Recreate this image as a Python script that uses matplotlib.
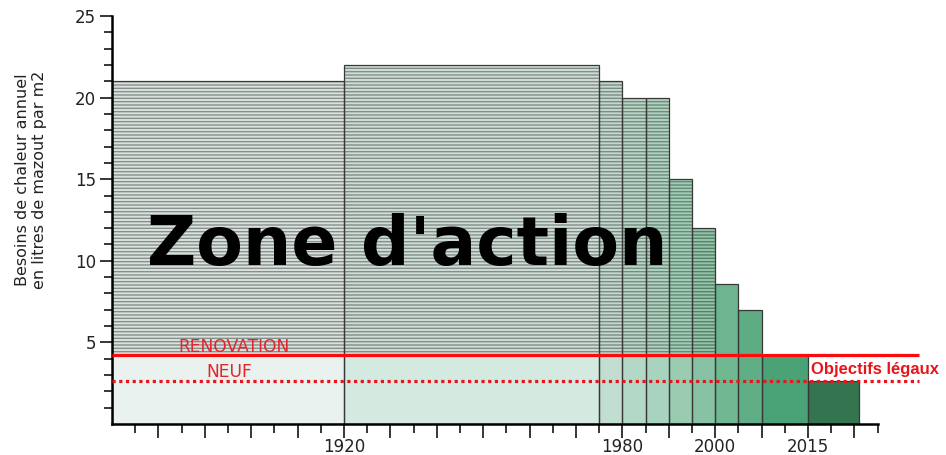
import numpy as np
import matplotlib.pyplot as plt

# periods as bar edges (in tick steps along the irregular time axis)
edges = [0, 10, 21, 22, 23, 24, 25, 26, 27, 28, 30, 32.2]
heights = [21, 22, 21, 20, 20, 15, 12, 8.6, 7.0, 4.25, 2.65]

low_colors = ['#e9f2ee', '#d4e9df', '#c1ded0', '#b3d8c6', '#a8d3bf', '#99cbb1',
              '#87c2a5', '#70b891', '#5fae85', '#4aa277', '#34754f']
top_colors = ['#dbe2de', '#d0ddd6', '#c4d8ce', '#bad4c6', '#b2d0c0', '#a5cbb6',
              '#97c3ab', '#6db590', '#5dac84', '#4aa277', '#34754f']
stripe_colors = ['#85908b', '#818f88', '#7a8c82', '#728e7f', '#6c8d7b', '#608d74',
                 '#538268', None, None, None, None]

renovation = 4.25
neuf = 2.65
line_end = 34.8

year_ticks = [10, 22, 26, 30]
year_labels = ['1920', '1980', '2000', '2015']

plt.rcParams['hatch.linewidth'] = 1.0

fig = plt.figure(figsize=(9.46, 4.55), dpi=100)
ax = fig.add_axes([112 / 946, 31 / 455, 812 / 946, 408 / 455])

left = np.array(edges[:-1])
width = np.diff(edges)
h = np.array(heights)

# lower (un-hatched) part below the renovation target
ax.bar(left, np.minimum(h, renovation), width, align='edge',
       color=low_colors, linewidth=0, zorder=1)

# upper part, striped for older buildings
for i in range(len(h)):
    if h[i] <= renovation:
        continue
    sc = stripe_colors[i]
    ax.bar(left[i], h[i] - renovation, width[i], bottom=renovation, align='edge',
           color=top_colors[i], edgecolor=sc if sc else top_colors[i],
           hatch='-----' if sc else None, linewidth=0, zorder=1)

# outlines
ax.bar(left, h, width, align='edge', fill=False, edgecolor='#383838',
       linewidth=0.9, zorder=2)

ax.hlines(renovation, 0, line_end, color='#ff0a0a', linewidth=2.3, zorder=4)
ax.hlines(neuf, 0, line_end, color='#e8141c', linewidth=2.3,
          linestyles=(0, (1, 1.1)), zorder=4)

ax.text(12.72, 9.74, "Zone d'action", fontsize=49, fontweight='bold',
        ha='center', va='baseline', color='black', zorder=5)
ax.text(5.25, 4.43, 'RENOVATION', fontsize=12.3, color='#e3262d',
        ha='center', va='baseline', zorder=5)
ax.text(5.04, 2.90, 'NEUF', fontsize=12.3, color='#e3262d',
        ha='center', va='baseline', zorder=5)
ax.text(30.15, 3.06, 'Objectifs légaux', fontsize=12, fontweight='bold',
        family='Liberation Sans', color='#e8141c', ha='left', va='baseline',
        zorder=5)

ax.set_xlim(0, 35)
ax.set_ylim(0, 25)

ax.set_xticks(range(2, 33, 2))
ax.set_xticklabels([year_labels[year_ticks.index(t)] if t in year_ticks else ''
                    for t in range(2, 33, 2)])
ax.set_xticks(range(1, 34, 2), minor=True)
ax.set_yticks([5, 10, 15, 20, 25])
ax.set_yticks(range(1, 25), minor=True)

ax.tick_params(axis='x', which='major', length=10, width=1.1, pad=0,
               labelsize=12, colors='black')
ax.tick_params(axis='x', which='minor', length=6.5, width=1.1)
ax.tick_params(axis='y', which='major', length=8.6, width=1.1, pad=3,
               labelsize=12, colors='black')
ax.tick_params(axis='y', which='minor', length=5.8, width=1.1)
for lab in ax.get_xticklabels() + ax.get_yticklabels():
    lab.set_color('#222222')

for s in ['top', 'right']:
    ax.spines[s].set_visible(False)
ax.spines['bottom'].set_bounds(0, 33)
ax.spines['left'].set_bounds(0, 25)
ax.spines['bottom'].set_linewidth(1.8)
ax.spines['left'].set_linewidth(1.8)
ax.patch.set_alpha(0)

fig.text(31 / 946, 1 - 180 / 455,
         'Besoins de chaleur annuel\nen litres de mazout par m2',
         rotation=90, ha='center', va='center', fontsize=11.5, color='#222222')

fig.savefig('out.png', dpi=100)
